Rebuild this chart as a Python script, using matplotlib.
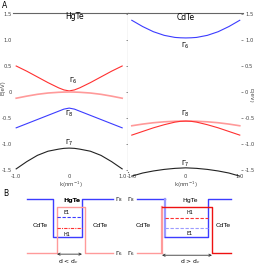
import matplotlib
matplotlib.use("Agg")
import matplotlib.pyplot as plt

# band structure data, panel A (k in nm^-1, E in eV)
k = [-1.0, -0.8, -0.6, -0.4, -0.2, -0.1, 0.0, 0.1, 0.2, 0.4, 0.6, 0.8, 1.0]
hgte_g6_up = [0.50, 0.40, 0.29, 0.18, 0.08, 0.04, 0.02, 0.04, 0.08, 0.18, 0.29, 0.40, 0.50]
hgte_g6_low = [-0.12, -0.08, -0.045, -0.02, -0.006, -0.002, 0.0, -0.002, -0.006, -0.02, -0.045, -0.08, -0.12]
hgte_g8 = [-0.69, -0.61, -0.53, -0.45, -0.37, -0.33, -0.31, -0.33, -0.37, -0.45, -0.53, -0.61, -0.69]
hgte_g7 = [-1.48, -1.34, -1.22, -1.14, -1.10, -1.085, -1.08, -1.085, -1.10, -1.14, -1.22, -1.34, -1.48]
cdte_g6 = [1.38, 1.26, 1.16, 1.09, 1.05, 1.043, 1.04, 1.043, 1.05, 1.09, 1.16, 1.26, 1.38]
cdte_g8_hh = [-0.65, -0.618, -0.592, -0.574, -0.564, -0.561, -0.56, -0.561, -0.564, -0.574, -0.592, -0.618, -0.65]
cdte_g8_lh = [-0.83, -0.76, -0.69, -0.63, -0.58, -0.565, -0.56, -0.565, -0.58, -0.63, -0.69, -0.76, -0.83]
cdte_g7 = [-1.62, -1.56, -1.52, -1.49, -1.47, -1.465, -1.46, -1.465, -1.47, -1.49, -1.52, -1.56, -1.62]

yticks = [-1.5, -1.0, -0.5, 0, 0.5, 1.0, 1.5]
ytick_labels = ["-1.5", "-1.0", "-0.5", "0", "0.5", "1.0", "1.5"]
xticks = [-1, 0, 1]
xtick_labels = ["-1.0", "0", "1.0"]

# quantum well schematic, panel B (schematic x units, schematic energy)
g8_barrier = 1.0
g8_well = 0.30
g6_barrier = 0.0
g6_well = 0.85
# d < dc
thin_blue_x = [27, 53, 53, 82, 82, 113]
thin_red_x = [27, 57, 57, 85, 85, 113]
thin_e1 = 0.67
thin_h1 = 0.46
# d > dc
thick_blue_x = [10, 38, 38, 81, 81, 104]
thick_red_x = [10, 35, 35, 85, 85, 104]
thick_h1 = 0.65
thick_e1 = 0.46

RED = "#ff3030"
PINK = "#ff9a9a"
BLUE = "#3c3cff"
LBLUE = "#9a9aff"
BLACK = "#222222"
GREY = "#666666"

W, H = 254, 266
fig = plt.figure(figsize=(2.54, 2.66), dpi=100)


def px_axes(x0, y0, x1, y1):
    return fig.add_axes([x0 / W, 1 - y1 / H, (x1 - x0) / W, (y1 - y0) / H])


axL = px_axes(13, 13, 128, 172)
axR = px_axes(128, 13, 243, 172)

lw = 0.8
axL.plot(k, hgte_g6_up, color=RED, lw=lw, clip_on=False)
axL.plot(k, hgte_g6_low, color=PINK, lw=1.2, clip_on=False)
axL.plot(k, hgte_g8, color=BLUE, lw=lw, clip_on=False)
axL.plot(k, hgte_g7, color=BLACK, lw=lw, clip_on=False)
axR.plot(k, cdte_g6, color=BLUE, lw=lw, clip_on=False)
axR.plot(k, cdte_g8_hh, color=PINK, lw=1.2, clip_on=False)
axR.plot(k, cdte_g8_lh, color=RED, lw=lw, clip_on=False)
axR.plot(k, cdte_g7, color=BLACK, lw=lw, clip_on=False)

axL.set_xlim(-1.06, 1.11)
axR.set_xlim(-1.07, 1.06)
for ax in (axL, axR):
    ax.set_ylim(-1.54, 1.52)
    ax.set_yticks(yticks)
    ax.set_yticklabels(ytick_labels)
    ax.set_xticks(xticks)
    ax.set_xticklabels(xtick_labels)
    ax.spines["bottom"].set_visible(False)
    ax.spines["left"].set_visible(False)
    ax.spines["top"].set_color(GREY)
    ax.spines["top"].set_linewidth(0.8)
    ax.tick_params(axis="x", length=0, pad=1.5, labelsize=3.8, labelcolor="#444444")
    ax.set_xlabel("k(nm$^{-1}$)", fontsize=4, color="#444444", labelpad=0.5)

axL.spines["right"].set_color(GREY)
axL.spines["right"].set_linewidth(0.8)
axR.spines["right"].set_visible(False)
axL.tick_params(axis="y", left=False, right=True, labelleft=True, direction="in",
                length=1.5, width=0.5, color=GREY, pad=1, labelsize=3.8, labelcolor="#444444")
axR.tick_params(axis="y", left=False, right=True, labelleft=False, labelright=True,
                direction="in", length=1.5, width=0.5, color=GREY, pad=1.5,
                labelsize=3.8, labelcolor="#444444")

axL.text(0.1, 1.46, "HgTe", ha="center", va="center", fontsize=5.5)
axR.text(0.0, 1.44, "CdTe", ha="center", va="center", fontsize=5.5)
axL.text(0.08, 0.21, r"$\Gamma_6$", ha="center", va="center", fontsize=5)
axL.text(0.0, -0.42, r"$\Gamma_8$", ha="center", va="center", fontsize=5)
axL.text(0.0, -0.98, r"$\Gamma_7$", ha="center", va="center", fontsize=5)
axR.text(0.0, 0.88, r"$\Gamma_6$", ha="center", va="center", fontsize=5)
axR.text(0.0, -0.42, r"$\Gamma_8$", ha="center", va="center", fontsize=5)
axR.text(0.0, -1.38, r"$\Gamma_7$", ha="center", va="center", fontsize=5)

fig.text(3 / W, 1 - 88 / H, "E(eV)", rotation=90, ha="center", va="center", fontsize=4, color="#444444")
fig.text(251 / W, 1 - 95 / H, "E(eV)", rotation=270, ha="center", va="center", fontsize=4, color="#444444")
fig.text(5 / W, 1 - 6 / H, "A", ha="center", va="center", fontsize=5.5)
fig.text(6 / W, 1 - 194 / H, "B", ha="center", va="center", fontsize=5.5)

# panel B
axB1 = px_axes(0, 190, 127, 266)
axB2 = px_axes(127, 190, 254, 266)
for ax in (axB1, axB2):
    ax.set_xlim(0, 127)
    ax.set_ylim(-0.24, 1.17)
    ax.axis("off")

blue_y = [g8_barrier, g8_barrier, g8_well, g8_well, g8_barrier, g8_barrier]
red_y = [g6_barrier, g6_barrier, g6_well, g6_well, g6_barrier, g6_barrier]

axB1.plot(thin_blue_x, blue_y, color=BLUE, lw=1.0)
axB1.plot(thin_red_x, red_y, color=PINK, lw=1.0)
axB1.plot([thin_red_x[2], thin_blue_x[3]], [thin_e1, thin_e1], color=BLUE, lw=0.8, ls=(0, (3, 1.5)))
axB1.plot([thin_red_x[2], thin_blue_x[3]], [thin_h1, thin_h1], color=RED, lw=0.8, ls=(0, (3, 1, 1, 1)))
axB1.text(67, thin_e1 + 0.09, "E1", ha="center", va="center", fontsize=3.5)
axB1.text(67, thin_h1 - 0.11, "H1", ha="center", va="center", fontsize=3.5)
axB1.text(72, 0.98, "HgTe", ha="center", va="center", fontsize=4.5, fontweight="bold")
axB1.text(40, 0.52, "CdTe", ha="center", va="center", fontsize=4.5)
axB1.text(100, 0.52, "CdTe", ha="center", va="center", fontsize=4.5)
axB1.text(119, g8_barrier, r"$\Gamma_8$", ha="center", va="center", fontsize=4.2)
axB1.text(119, g6_barrier, r"$\Gamma_6$", ha="center", va="center", fontsize=4.2)
axB1.annotate("", xy=(thin_red_x[2], -0.02), xytext=(thin_blue_x[3], -0.02),
              arrowprops=dict(arrowstyle="<->", color="#333333", lw=0.6, mutation_scale=4,
                              shrinkA=0, shrinkB=0))
axB1.text(68, -0.15, "d < d$_c$", ha="center", va="center", fontsize=4.3)

axB2.plot(thick_blue_x[:2], blue_y[:2], color=BLUE, lw=1.0)
axB2.plot(thick_blue_x[1:3], blue_y[1:3], color=LBLUE, lw=1.6)
axB2.plot(thick_blue_x[2:], blue_y[2:], color=BLUE, lw=1.0)
axB2.plot(thick_red_x[:2], red_y[:2], color=PINK, lw=1.0)
axB2.plot(thick_red_x[1:3], red_y[1:3], color=PINK, lw=1.6)
axB2.plot(thick_red_x[2:], red_y[2:], color="#ee1111", lw=1.0)
axB2.plot([thick_blue_x[2], thick_blue_x[3]], [thick_h1, thick_h1], color=RED, lw=0.8, ls=(0, (3, 1.5)))
axB2.plot([thick_blue_x[2], thick_blue_x[3]], [thick_e1, thick_e1], color=LBLUE, lw=0.8, ls=(0, (3, 1.5)))
axB2.text(63, thick_h1 + 0.11, "H1", ha="center", va="center", fontsize=3.5)
axB2.text(63, thick_e1 - 0.09, "E1", ha="center", va="center", fontsize=3.5)
axB2.text(63, 0.98, "HgTe", ha="center", va="center", fontsize=4.5)
axB2.text(16, 0.52, "CdTe", ha="center", va="center", fontsize=4.5)
axB2.text(96, 0.52, "CdTe", ha="center", va="center", fontsize=4.5)
axB2.text(4, g8_barrier, r"$\Gamma_8$", ha="center", va="center", fontsize=4.2)
axB2.text(4, g6_barrier, r"$\Gamma_6$", ha="center", va="center", fontsize=4.2)
axB2.annotate("", xy=(thick_red_x[2], -0.04), xytext=(thick_red_x[3], -0.04),
              arrowprops=dict(arrowstyle="<->", color="#333333", lw=0.6, mutation_scale=4,
                              shrinkA=0, shrinkB=0))
axB2.text(63, -0.16, "d > d$_c$", ha="center", va="center", fontsize=4.3)

fig.savefig("out.png", dpi=100)
